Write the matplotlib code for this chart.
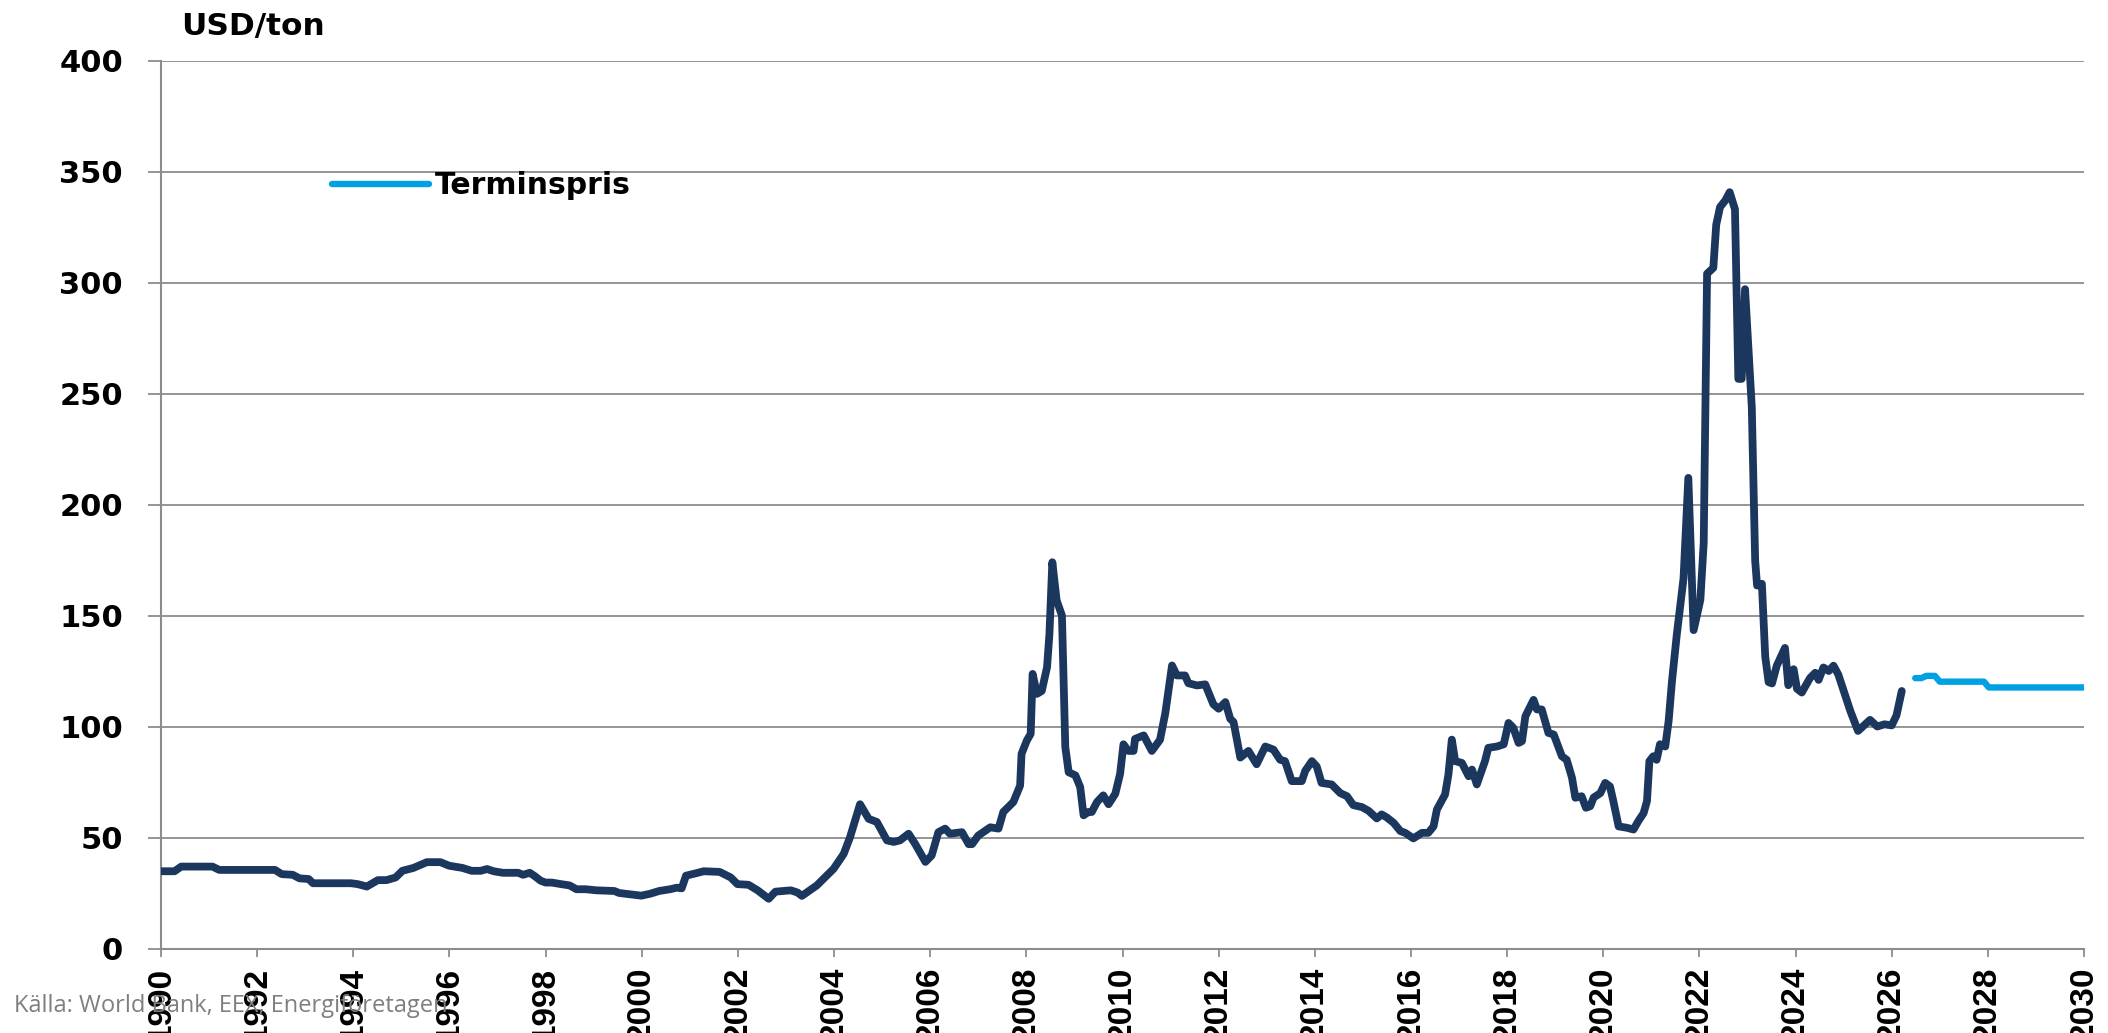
import matplotlib
matplotlib.use("Agg")
import matplotlib.pyplot as plt

# Kolpris (World Bank), månadsvärden
hist_year = [1990.0, 1990.28, 1990.42, 1991.07, 1991.21, 1992.37, 1992.51, 1992.74, 1992.88, 1993.07,
             1993.16, 1993.95, 1994.09, 1994.28, 1994.51, 1994.69, 1994.88, 1995.02, 1995.25, 1995.53,
             1995.81, 1995.99, 1996.27, 1996.46, 1996.65, 1996.78, 1996.92, 1997.11, 1997.43, 1997.53,
             1997.67, 1997.76, 1997.9, 1998.0, 1998.13, 1998.32, 1998.5, 1998.64, 1998.83, 1999.06,
             1999.43, 1999.53, 1999.76, 1999.99, 2000.18, 2000.36, 2000.59, 2000.73, 2000.83, 2000.92,
             2001.11, 2001.29, 2001.62, 2001.85, 2001.99, 2002.22, 2002.41, 2002.64, 2002.78, 2003.1,
             2003.24, 2003.33, 2003.64, 2003.99, 2004.2, 2004.33, 2004.54, 2004.72, 2004.89, 2005.1,
             2005.24, 2005.37, 2005.55, 2005.69, 2005.9, 2006.03, 2006.17, 2006.31, 2006.41, 2006.66,
             2006.8, 2006.87, 2007.0, 2007.25, 2007.42, 2007.52, 2007.73, 2007.87, 2007.9, 2008.01,
             2008.09, 2008.13, 2008.22, 2008.32, 2008.43, 2008.48, 2008.54, 2008.63, 2008.74, 2008.81,
             2008.88, 2009.02, 2009.12, 2009.19, 2009.29, 2009.36, 2009.47, 2009.6, 2009.71, 2009.85,
             2009.95, 2010.02, 2010.12, 2010.23, 2010.26, 2010.44, 2010.61, 2010.78, 2010.89, 2011.03,
             2011.13, 2011.3, 2011.37, 2011.55, 2011.72, 2011.89, 2012.0, 2012.14, 2012.24, 2012.31,
             2012.45, 2012.62, 2012.79, 2012.97, 2013.14, 2013.28, 2013.38, 2013.52, 2013.73, 2013.8,
             2013.94, 2014.04, 2014.14, 2014.35, 2014.53, 2014.67, 2014.8, 2014.98, 2015.12, 2015.29,
             2015.39, 2015.5, 2015.64, 2015.78, 2015.88, 2016.05, 2016.23, 2016.36, 2016.47, 2016.54,
             2016.71, 2016.78, 2016.85, 2016.92, 2017.06, 2017.2, 2017.27, 2017.37, 2017.54, 2017.61,
             2017.79, 2017.93, 2018.03, 2018.13, 2018.24, 2018.31, 2018.38, 2018.55, 2018.62, 2018.72,
             2018.86, 2018.97, 2019.14, 2019.24, 2019.35, 2019.42, 2019.55, 2019.64, 2019.73, 2019.8,
             2019.94, 2020.04, 2020.14, 2020.21, 2020.32, 2020.49, 2020.63, 2020.73, 2020.84, 2020.91,
             2020.96, 2021.04, 2021.11, 2021.18, 2021.29, 2021.36, 2021.43, 2021.53, 2021.6, 2021.67,
             2021.77, 2021.88, 2022.02, 2022.09, 2022.16, 2022.29, 2022.35, 2022.43, 2022.54, 2022.63,
             2022.74, 2022.81, 2022.88, 2022.95, 2023.09, 2023.16, 2023.2, 2023.3, 2023.37, 2023.44,
             2023.51, 2023.61, 2023.78, 2023.85, 2023.96, 2024.03, 2024.13, 2024.3, 2024.41, 2024.48,
             2024.58, 2024.69, 2024.79, 2024.89, 2025.14, 2025.3, 2025.55, 2025.7, 2025.85, 2026.0,
             2026.1, 2026.21]
hist_price = [34.8, 34.8, 36.9, 36.9, 35.4, 35.4, 33.5, 33.2, 31.6, 31.3,
              29.4, 29.4, 29.0, 27.9, 30.8, 30.8, 32.0, 35.0, 36.3, 38.9,
              38.9, 37.3, 36.3, 35.0, 35.0, 35.8, 34.8, 34.1, 34.1, 33.2,
              34.1, 32.8, 30.5, 29.7, 29.7, 29.0, 28.4, 26.7, 26.7, 26.2,
              25.9, 25.0, 24.4, 23.8, 24.7, 25.9, 26.7, 27.4, 27.1, 32.8,
              33.8, 34.8, 34.5, 32.0, 29.0, 28.7, 26.2, 22.4, 25.6, 26.2,
              25.2, 23.7, 28.4, 35.9, 42.6, 50.0, 65.0, 58.4, 57.0, 48.7,
              48.0, 48.7, 51.7, 47.0, 39.0, 41.9, 52.4, 54.0, 51.7, 52.4,
              47.0, 47.0, 50.9, 54.6, 54.0, 61.5, 66.0, 73.4, 87.7, 93.7,
              96.7, 123.7, 114.7, 116.0, 126.7, 141.7, 174.0, 156.8, 150.0, 90.7,
              79.4, 78.0, 72.7, 60.0, 61.5, 61.5, 66.0, 69.0, 65.0, 69.7,
              78.7, 92.0, 89.0, 89.0, 94.4, 96.0, 89.0, 94.0, 106.0, 127.5,
              123.0, 123.0, 119.5, 118.5, 119.0, 110.0, 108.0, 111.0, 103.5, 102.0,
              86.0, 89.0, 83.0, 91.0, 89.6, 85.0, 84.4, 75.4, 75.4, 80.0,
              84.4, 82.0, 74.6, 73.9, 70.0, 68.6, 64.6, 63.7, 62.0, 58.6,
              60.4, 59.0, 56.6, 52.9, 52.1, 49.6, 52.1, 52.1, 55.0, 62.6,
              69.4, 78.4, 94.1, 84.4, 83.6, 77.6, 80.6, 73.9, 84.4, 90.4,
              91.0, 92.0, 101.6, 99.4, 92.6, 93.4, 104.6, 112.0, 107.7, 107.7,
              97.1, 96.4, 86.6, 85.0, 76.9, 67.9, 68.6, 63.4, 64.1, 68.0,
              70.0, 74.6, 73.0, 66.4, 55.0, 54.4, 53.6, 57.4, 61.0, 66.4,
              84.4, 86.6, 85.0, 92.0, 91.0, 102.4, 120.4, 141.4, 154.0, 166.7,
              212.0, 143.4, 157.0, 182.7, 304.0, 306.6, 326.0, 334.0, 337.0, 340.7,
              333.0, 256.6, 256.6, 297.0, 244.0, 174.8, 163.5, 164.3, 131.4, 120.0,
              119.4, 127.4, 135.4, 118.6, 125.8, 117.0, 115.3, 121.8, 124.2, 121.0,
              126.6, 125.0, 127.4, 123.4, 107.0, 98.0, 103.0, 100.0, 101.0, 100.5,
              105.0, 116.0]

# Terminspris (EEX)
fwd_year = [2026.49, 2026.62, 2026.72, 2026.9, 2027.0, 2027.92, 2028.02, 2030.0]
fwd_price = [121.8, 121.8, 122.8, 122.8, 120.2, 120.2, 117.6, 117.6]

year_ticks = list(range(1990, 2031, 2))
price_ticks = list(range(0, 401, 50))

DARK = '#1b375e'
LIGHT = '#00a0e3'
GRID = '#8c8c8c'

fig = plt.figure(figsize=(21.08, 10.33), dpi=100)
ax = fig.add_axes([0.0764, 0.0818, 0.9122, 0.8596])

ax.plot(hist_year, hist_price, color=DARK, lw=5.6, solid_joinstyle='round',
        solid_capstyle='round', label='_nolegend_', zorder=3)
ax.plot(fwd_year, fwd_price, color=LIGHT, lw=4.6, solid_joinstyle='round',
        solid_capstyle='round', label='Terminspris', zorder=3)

ax.set_xlim(1990, 2030)
ax.set_ylim(0, 400)
ax.set_xticks(year_ticks)
ax.set_xticklabels([str(y) for y in year_ticks], rotation=90, fontsize=24,
                   fontweight='bold', family='Liberation Sans')
ax.set_yticks(price_ticks)
ax.set_yticklabels([str(p) for p in price_ticks], fontsize=22, fontweight='bold',
                   family='DejaVu Sans')

ax.yaxis.grid(True, color=GRID, lw=1.3)
ax.set_axisbelow(True)
for s in ['top', 'right']:
    ax.spines[s].set_visible(False)
for s in ['left', 'bottom']:
    ax.spines[s].set_color(GRID)
    ax.spines[s].set_linewidth(1.5)
ax.tick_params(axis='x', direction='out', length=6, width=1.3, color=GRID, pad=7)
ax.tick_params(axis='y', direction='out', length=9.4, width=1.3, color=GRID, pad=18)

leg = ax.legend(loc='center left', bbox_to_anchor=(0.0890, 0.859), frameon=False,
                borderpad=0, borderaxespad=0, handlelength=3.25, handletextpad=0.18,
                prop={'family': 'DejaVu Sans', 'weight': 'bold', 'size': 21.5})

fig.text(181 / 2108, 1 - 26 / 1033, 'USD/ton', fontsize=22.5, fontweight='bold',
         family='DejaVu Sans', va='center', ha='left')
fig.text(14 / 2108, 1 - 1006 / 1033, 'Källa: World Bank, EEX, Energiföretagen',
         fontsize=17, color='#7f7f7f', family='Open Sans', va='center', ha='left')

fig.savefig('out.png', dpi=100)
